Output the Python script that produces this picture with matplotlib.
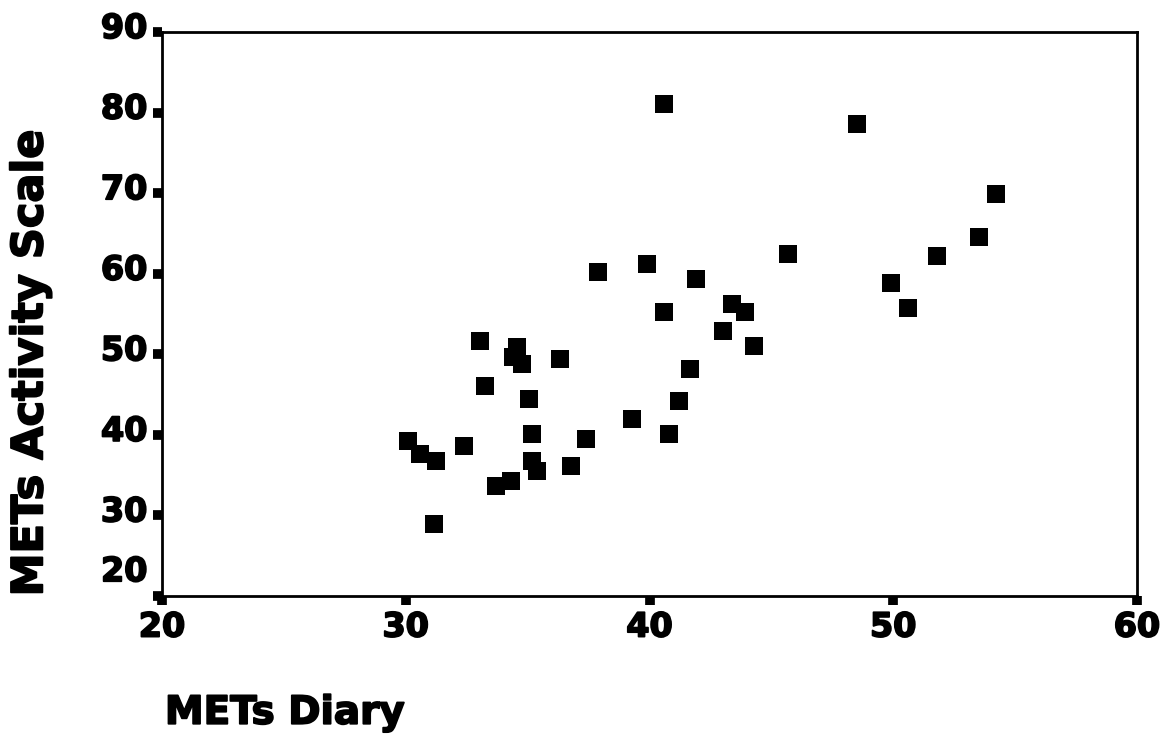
import matplotlib
matplotlib.use("Agg")
import matplotlib.pyplot as plt
import matplotlib.transforms as mtransforms
import matplotlib.patheffects as pe

mets_diary = [40.6, 48.5, 54.2, 53.5, 51.8, 49.9, 50.6, 45.7, 39.9, 41.9,
              43.4, 43.9, 43.0, 44.3, 40.6, 37.9, 33.05, 34.56, 34.4, 34.77,
              36.33, 33.25, 35.06, 41.66, 41.2, 39.3, 40.8, 30.09, 30.6, 31.24,
              32.4, 35.18, 37.4, 35.18, 35.38, 36.78, 33.7, 34.3, 31.16]
mets_scale = [81.1, 78.6, 69.9, 64.6, 62.2, 58.8, 55.7, 62.5, 61.2, 59.4,
              56.3, 55.3, 52.9, 51.0, 55.3, 60.2, 51.65, 50.9, 49.7, 48.8,
              49.4, 46.1, 44.45, 48.2, 44.2, 42.0, 40.1, 39.2, 37.6, 36.75,
              38.6, 40.1, 39.5, 36.75, 35.5, 36.1, 33.65, 34.3, 28.9]
x_ticks = [20, 30, 40, 50, 60]
y_ticks = [20, 30, 40, 50, 60, 70, 80, 90]

plt.rcParams['font.family'] = ['DejaVu Sans']
heavy = [pe.withStroke(linewidth=1.3, foreground='black')]

fig = plt.figure(figsize=(11.64, 7.40), dpi=100)
ax = fig.add_axes([162/1164, 1-596/740, (1137-162)/1164, (596-32)/740])

ax.plot(mets_diary, mets_scale, linestyle='none', marker='s', markersize=12.5,
        color='black', markeredgewidth=0)

ax.set_xlim(20, 60)
ax.set_ylim(20, 90)
ax.set_xticks(x_ticks)
ax.set_yticks(y_ticks)
ax.set_xticklabels([str(v) for v in x_ticks], fontsize=24, fontweight='bold', path_effects=heavy)
ax.set_yticklabels([str(v) for v in y_ticks], fontsize=24, fontweight='bold', path_effects=heavy)
ax.tick_params(axis='both', direction='out', length=6.5, width=7, color='black', pad=4)
ax.tick_params(axis='y', pad=4)

for s in ax.spines.values():
    s.set_linewidth(2)
    s.set_color('black')

# y tick labels sit slightly above their ticks; "20" is lifted further
for i, lab in enumerate(ax.get_yticklabels()):
    dy = 5/72 if i > 0 else 20/72
    lab.set_transform(lab.get_transform() + mtransforms.ScaledTranslation(0, dy, fig.dpi_scale_trans))

ax.set_xlabel('METs Diary', fontsize=28, fontweight='bold', ha='left', va='center', path_effects=heavy)
ax.xaxis.set_label_coords(0.003, -0.207)
ax.set_ylabel('METs Activity Scale', fontsize=31, fontweight='bold', va='center', ha='center', path_effects=heavy)
ax.yaxis.set_label_coords(-0.135, 0.413)

fig.savefig('out.png', dpi=100, facecolor='white')
